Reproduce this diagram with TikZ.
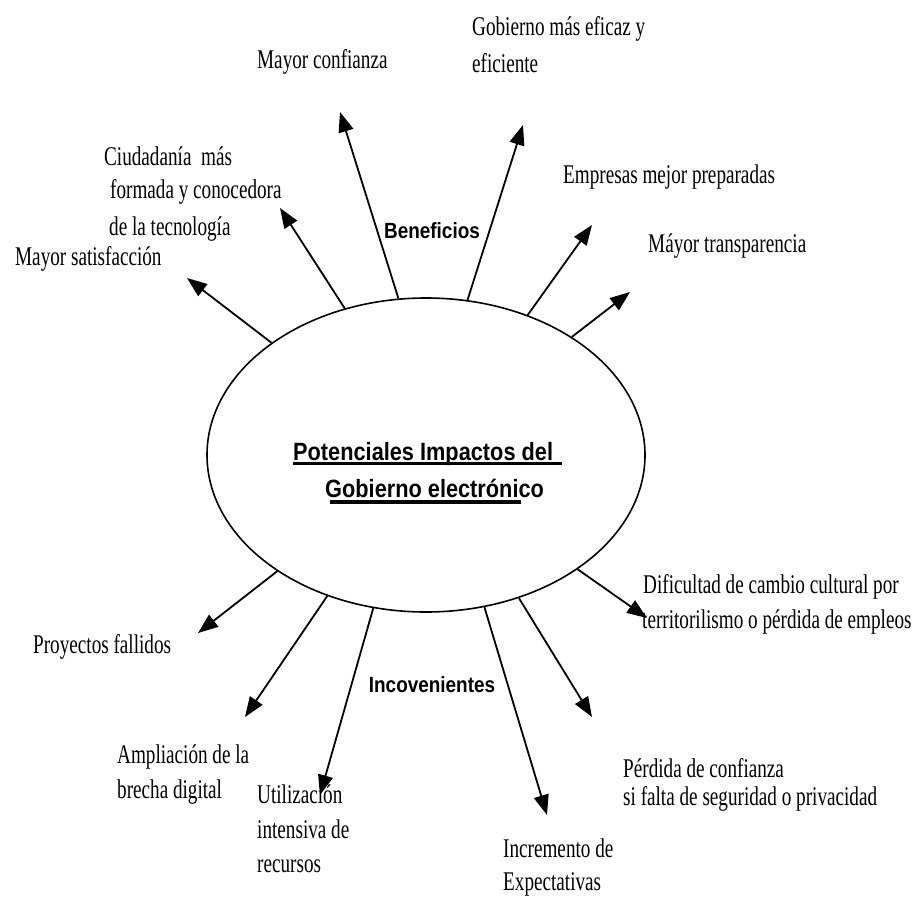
\documentclass[tikz,border=0pt]{standalone}
\usepackage{fontspec}
\setmainfont{Liberation Serif}[FakeStretch=0.71]
\newfontfamily\headfont{Liberation Sans}[FakeStretch=0.86]
\newfontfamily\titlefont{Liberation Sans}[FakeStretch=0.87]
\usetikzlibrary{arrows.meta,shapes.geometric}
\tikzset{
  lbl/.style={anchor=base west,inner sep=0pt,font=\fontsize{27}{35}\selectfont},
  head/.style={anchor=base,inner sep=0pt,font=\headfont\bfseries\fontsize{22}{25}\selectfont},
  ttl/.style={anchor=base west,inner sep=0pt,font=\titlefont\bfseries\fontsize{25}{28}\selectfont},
  arr/.style={line width=1.8pt,-{Triangle[length=20pt,width=15pt]}},
  uline/.style={line width=3.5pt}
}
\begin{document}
\begin{tikzpicture}[x=1pt,y=-1pt]
\useasboundingbox (0,0) rectangle (921,897);
\node[ellipse,draw,line width=1.6pt,minimum width=438pt,minimum height=314pt,inner sep=0pt] (E) at (426,455) {};
% title
\node[ttl] (t1) at (293,460) {Potenciales Impactos del};
\node[ttl] (t2) at (325,497) {Gobierno electrónico};
\draw[uline] (293,463.5) -- (562,463.5);
\draw[uline] (330,502) -- (521,502);
% headings
\node[head] (hb) at (432,238) {Beneficios};
\node[head] (hi) at (432,692) {Incovenientes};
% tips
\coordinate (p1) at (187,278);
\coordinate (p2) at (280,208);
\coordinate (p3) at (340,112);
\coordinate (p4) at (523,125);
\coordinate (p5) at (592,225);
\coordinate (p6) at (630,292);
\coordinate (p7) at (198,633);
\coordinate (p8) at (245,717);
\coordinate (p9) at (320,795);
\coordinate (p10) at (547,815);
\coordinate (p11) at (592,717);
\coordinate (p12) at (647,618);
\draw[arr] (E.144) -- (p1);
\draw[arr] (E.119.7) -- (p2);
\draw[arr] (E.100.5) -- (p3);
\draw[arr] (E.75.2) -- (p4);
\draw[arr] (E.54.2) -- (p5);
\draw[arr] (E.39.1) -- (p6);
\draw[arr] (E.218.4) -- (p7);
\draw[arr] (E.235.4) -- (p8);
\draw[arr] (E.251.8) -- (p9);
\draw[arr] (E.291.7) -- (p10);
\draw[arr] (E.303.3) -- (p11);
\draw[arr] (E.323.4) -- (p12);
% labels
\node[lbl] (l1) at (15,265) {Mayor satisfacción};
\node[lbl] (l2a) at (104,165) {Ciudadanía\ \ más};
\node[lbl] (l2b) at (110,198) {formada y conocedora};
\node[lbl] (l2c) at (109,235) {de la tecnología};
\node[lbl] (l3) at (257,68) {Mayor confianza};
\node[lbl] (l4a) at (472,35) {Gobierno más eficaz y};
\node[lbl] (l4b) at (472,72) {eficiente};
\node[lbl] (l5) at (563,183) {Empresas mejor preparadas};
\node[lbl] (l6) at (648,252) {Máyor transparencia};
\node[lbl] (l7) at (33,653) {Proyectos fallidos};
\node[lbl] (l8a) at (117,763) {Ampliación de la};
\node[lbl] (l8b) at (117,798) {brecha digital};
\node[lbl] (l9a) at (257,803) {Utilización};
\node[lbl] (l9b) at (257,838) {intensiva de};
\node[lbl] (l9c) at (257,872) {recursos};
\node[lbl] (l10a) at (503,857) {Incremento de};
\node[lbl] (l10b) at (503,890) {Expectativas};
\node[lbl] (l11a) at (623,777) {Pérdida de confianza};
\node[lbl] (l11b) at (623,805) {si falta de seguridad o privacidad};
\node[lbl] (l12a) at (643,593) {Dificultad de cambio cultural por};
\node[lbl] (l12b) at (642,628) {territorilismo o pérdida de empleos};
\end{tikzpicture}
\end{document}
